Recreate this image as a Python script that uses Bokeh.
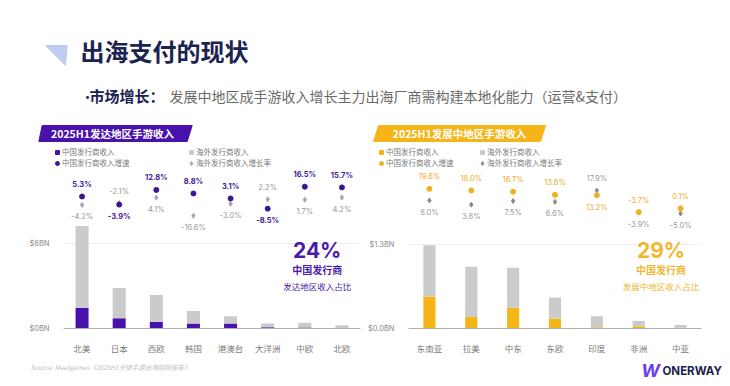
from bokeh.plotting import figure
from bokeh.models import (Range1d, FactorRange, ColumnDataSource, FixedTicker,
                          Legend, LegendItem, Label)
from bokeh.layouts import column, row
from bokeh.embed import file_html
from bokeh.resources import INLINE
from bokeh.core.properties import value

CJK = "Noto Sans CJK SC"
NUM = "Inter"
NAN = float("nan")

# ---------------- data ----------------
dev_regions = ["北美", "日本", "西欧", "韩国", "港澳台", "大洋洲", "中欧", "北欧"]
dev_cn_rev = [1.94, 0.97, 0.64, 0.48, 0.48, 0.12, 0.09, 0.03]      # $BN
dev_os_rev = [7.66, 2.83, 2.51, 1.16, 0.67, 0.36, 0.46, 0.27]      # $BN
dev_cn_growth = [5.3, -3.9, 12.8, 8.8, 3.1, -8.5, 16.5, 15.7]      # %
dev_os_growth = [-4.2, -2.1, 4.1, -16.6, -3.0, 2.2, 1.7, 4.2]      # %

emg_regions = ["东南亚", "拉美", "中东", "东欧", "印度", "非洲", "中亚"]
emg_cn_rev = [0.493, 0.179, 0.32, 0.155, 0.02, 0.036, 0.01]
emg_os_rev = [0.792, 0.773, 0.617, 0.323, 0.17, 0.079, 0.045]
emg_cn_growth = [19.6, 18.0, 16.7, 13.6, 13.2, -3.7, 0.1]
emg_os_growth = [8.0, 3.8, 7.5, 6.6, 17.9, -3.9, -5.0]

dev_ticks = [0, 8]
dev_tick_labels = {0: "$0BN", 8: "$8BN"}
emg_ticks = [0, 1.3]
emg_tick_labels = {0: "$0.0BN", 1.3: "$1.3BN"}

PURPLE = "#4a12ad"
GOLD = "#f5b417"
GRAY_BAR = "#cbcbcb"
NAVY = "#1b2350"

W_TOTAL = 730
H_HEAD = 168
H_CHART = 188
H_FOOT = 30
FRAME_BOTTOM = 333   # page y of the bar baseline


def blank(width, height):
    f = figure(width=width, height=height, x_range=Range1d(0, width),
               y_range=Range1d(height, 0), output_backend="svg",
               toolbar_location=None, min_border=0)
    f.axis.visible = False
    f.grid.visible = False
    f.outline_line_color = None
    return f


# ---------------- header ----------------
head = blank(W_TOTAL, H_HEAD)
head.patch([45, 66.7, 65], [45, 45, 65], color="#b8c8ee", alpha=0.9)
head.text(x=[80], y=[50], text=["出海支付的现状"], text_font=value(CJK),
          text_font_size=value("24px"), text_font_style="bold",
          text_color=NAVY, text_baseline="middle")
head.text(x=[80], y=[95], text=["•"], text_font=value(CJK),
          text_font_size=value("14px"), text_color=NAVY, text_baseline="middle")
head.text(x=[89], y=[95], text=["市场增长："], text_font=value(CJK),
          text_font_size=value("15px"), text_font_style="bold",
          text_color=NAVY, text_baseline="middle")
head.text(x=[169], y=[95], text=["发展中地区成手游收入增长主力出海厂商需构建本地化能力（运营&支付）"],
          text_font=value(CJK), text_font_size=value("14px"),
          text_color="#6a6a6a", text_baseline="middle")

# banners
head.patch([41.7, 191.7, 186.7, 38.3], [125, 125, 141, 141], color=PURPLE)
head.text(x=[112], y=[133], text=["2025H1发达地区手游收入"], text_font=value(CJK),
          text_font_size=value("10.5px"), text_font_style="bold",
          text_color="white", text_align="center", text_baseline="middle")
head.patch([378, 545, 540, 373], [125, 125, 141, 141], color=GOLD)
head.text(x=[459], y=[133], text=["2025H1发展中地区手游收入"], text_font=value(CJK),
          text_font_size=value("10.5px"), text_font_style="bold",
          text_color="white", text_align="center", text_baseline="middle")

# legends (key-only renderers holding a single NaN point, so nothing is plotted)
leg_common = dict(background_fill_alpha=0, border_line_color=None,
                  label_text_font=CJK, label_text_font_size="7.5px",
                  label_text_color="#7a7a7a", label_height=11, glyph_height=10,
                  glyph_width=10, spacing=0, padding=0, margin=0, label_standoff=0)


def add_legend(main, dot_color, os_marker_color, x1, x2):
    sq_cn = head.scatter(x=[NAN], y=[NAN], marker="square", color=main)
    dot_cn = head.scatter(x=[NAN], y=[NAN], marker="circle", color=dot_color)
    sq_os = head.scatter(x=[NAN], y=[NAN], marker="square", color=GRAY_BAR)
    dia_os = head.scatter(x=[NAN], y=[NAN], marker="diamond", color=os_marker_color)
    head.add_layout(Legend(items=[LegendItem(label="中国发行商收入", renderers=[sq_cn]),
                                  LegendItem(label="中国发行商收入增速", renderers=[dot_cn])],
                           location=(x1, 0), **leg_common))
    head.add_layout(Legend(items=[LegendItem(label="海外发行商收入", renderers=[sq_os]),
                                  LegendItem(label="海外发行商收入增长率", renderers=[dia_os])],
                           location=(x2, 0), **leg_common))


add_legend(PURPLE, "#3a1590", "#a8a8a8", 52, 186)
add_legend(GOLD, "#f0b020", "#8a8a8a", 376, 477)


def make_chart(regions, cn_rev, os_rev, cn_g, os_g, *, width, border_left,
               border_right, y_max, g_range, ticks, tick_labels, main, dot_color,
               cn_text_color, cn_text_style, os_marker_color, bar_width,
               frame_left_page, big, big_color, sub1, sub2, big_x):
    p = figure(width=width, height=H_CHART, x_range=FactorRange(*regions),
               y_range=Range1d(0, y_max), output_backend="svg",
               toolbar_location=None, min_border_left=border_left,
               min_border_right=border_right, min_border_top=0,
               min_border_bottom=23)
    p.extra_y_ranges = {"g": Range1d(*g_range)}
    p.outline_line_color = None
    p.xgrid.grid_line_color = None
    p.ygrid.ticker = FixedTicker(ticks=[ticks[1]])
    p.ygrid.grid_line_color = "#efefef"

    src = ColumnDataSource(dict(region=regions, cn=cn_rev, os=os_rev))
    p.vbar_stack(["cn", "os"], x="region", width=bar_width, color=[main, GRAY_BAR],
                 source=src, line_color=None)

    above = [c >= o for c, o in zip(cn_g, os_g)]
    gsrc = ColumnDataSource(dict(
        region=regions, cn=cn_g, os=os_g,
        cn_txt=[f"{v:.1f}%" for v in cn_g], os_txt=[f"{v:.1f}%" for v in os_g],
        cn_off=[-12 if a else 12 for a in above],
        os_off=[12 if a else -12 for a in above]))
    p.scatter("region", "os", source=gsrc, marker="diamond", size=5,
              color=os_marker_color, y_range_name="g")
    p.scatter("region", "cn", source=gsrc, marker="circle", size=5,
              color=dot_color, y_range_name="g")
    p.text("region", "os", text="os_txt", source=gsrc, y_range_name="g",
           y_offset="os_off", text_font=value(NUM), text_font_size=value("7.5px"),
           text_color="#9a9a9a", text_align="center", text_baseline="middle")
    p.text("region", "cn", text="cn_txt", source=gsrc, y_range_name="g",
           y_offset="cn_off", text_font=value(NUM), text_font_size=value("7.5px"),
           text_font_style=cn_text_style, text_color=cn_text_color,
           text_align="center", text_baseline="middle")

    # axes
    p.yaxis.ticker = FixedTicker(ticks=ticks)
    p.yaxis.major_label_overrides = tick_labels
    p.yaxis.axis_line_color = None
    p.yaxis.major_tick_line_color = None
    p.yaxis.minor_tick_line_color = None
    p.yaxis.major_label_text_font = NUM
    p.yaxis.major_label_text_font_size = "7.5px"
    p.yaxis.major_label_text_color = "#8a8a8a"
    p.yaxis.major_label_standoff = 8
    p.xaxis.axis_line_color = "#b0b0b0"
    p.xaxis.major_tick_line_color = None
    p.xaxis.major_label_text_font = CJK
    p.xaxis.major_label_text_font_size = "8.5px"
    p.xaxis.major_label_text_color = "#7a7a7a"
    p.xaxis.major_label_standoff = 7

    def lab(text, px, py, size, color, style="normal", font=CJK):
        p.add_layout(Label(x=px - frame_left_page, y=FRAME_BOTTOM - py,
                           x_units="screen", y_units="screen", text=text,
                           text_font=font, text_font_size=size,
                           text_font_style=style, text_color=color,
                           text_align="center", text_baseline="middle"))

    lab(big, big_x, 255, "21px", big_color, "bold", NUM)
    lab(sub1, big_x, 274, "10px", big_color, "bold")
    lab(sub2, big_x, 290, "8.5px", big_color)
    return p


left = make_chart(
    dev_regions, dev_cn_rev, dev_os_rev, dev_cn_growth, dev_os_growth,
    width=363, border_left=63, border_right=3, y_max=15.0,
    g_range=(-144.9, 37.2), ticks=dev_ticks, tick_labels=dev_tick_labels,
    main=PURPLE, dot_color="#3a1590", cn_text_color="#3f1a9c",
    cn_text_style="bold", os_marker_color="#a8a8a8", bar_width=0.35,
    frame_left_page=63.3, big="24%", big_color="#4a1aa8", sub1="中国发行商",
    sub2="发达地区收入占比", big_x=317)

right = make_chart(
    emg_regions, emg_cn_rev, emg_os_rev, emg_cn_growth, emg_os_growth,
    width=367, border_left=45, border_right=29, y_max=2.466,
    g_range=(-120.2, 40.0), ticks=emg_ticks, tick_labels=emg_tick_labels,
    main=GOLD, dot_color="#f0b020", cn_text_color="#e9ad2a",
    cn_text_style="normal", os_marker_color="#8a8a8a", bar_width=0.29,
    frame_left_page=408.4, big="29%", big_color="#f0b72f", sub1="中国发行商",
    sub2="发展中地区收入占比", big_x=661)

# ---------------- footer ----------------
foot = blank(W_TOTAL, H_FOOT)
foot.text(x=[30], y=[10], text=["Source: Meetgames《2025H1全球手游出海回顾报告》"],
          text_font=value(CJK), text_font_size=value("6.5px"),
          text_font_style="italic", text_color="#c0c0c0", text_baseline="middle")
foot.text(x=[650], y=[14], text=["W"], text_font=value(NUM),
          text_font_size=value("18px"), text_font_style="bold italic",
          text_color="#6b3cf0", text_align="center", text_baseline="middle")
foot.text(x=[662], y=[14], text=["ONERWAY"], text_font=value(NUM),
          text_font_size=value("11.5px"), text_font_style="bold",
          text_color="#1d1f4a", text_baseline="middle")

page = column(head, row(left, right), foot)
open("out.html", "w").write(file_html(page, INLINE))
